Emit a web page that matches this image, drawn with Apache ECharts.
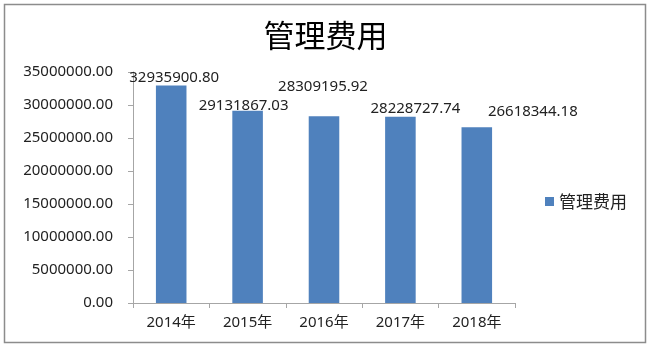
<!DOCTYPE html>
<html><head><meta charset="utf-8">
<script src="https://cdn.jsdelivr.net/npm/echarts@6/dist/echarts.min.js"></script>
<style>html,body{margin:0;padding:0;background:#fff}#c{width:651px;height:349px}</style>
</head><body><div id="c"></div>
<script>
const categories = ['2014年','2015年','2016年','2017年','2018年'];
const values = [32935900.80, 29131867.03, 28309195.92, 28228727.74, 26618344.18];
const seriesName = '管理费用';
const titleText = '管理费用';

// manual label nudges (style only)
const labelNudges = [[3,0],[-4,3],[-1,-21],[15,0],[56,-8]];

const font = '"Noto Sans", "Noto Sans CJK SC", sans-serif';
const chart = echarts.init(document.getElementById('c'));
chart.setOption({
  animation: false,
  title: { text: titleText, left: 'center', top: 15,
    textStyle: { fontSize: 31, fontWeight: 'normal', color: '#000', fontFamily: '"Noto Sans CJK SC", sans-serif' } },
  legend: { data: [seriesName], left: 540, top: 188, itemWidth: 9, itemHeight: 9, itemGap: 4,
    icon: 'rect', textStyle: { fontSize: 17, color: '#222', fontFamily: '"Noto Sans CJK SC", sans-serif' } },
  grid: { left: 133, right: 136, top: 72, bottom: 46 },
  xAxis: { type: 'category', data: categories,
    axisLine: { lineStyle: { color: '#a6a6a6' } },
    axisTick: { show: true, length: 5, lineStyle: { color: '#a6a6a6' } },
    axisLabel: { fontSize: 15, color: '#222', margin: 12, fontFamily: font } },
  yAxis: { type: 'value', min: 0, max: 35000000, interval: 5000000,
    axisLine: { show: true, lineStyle: { color: '#a6a6a6' } },
    axisTick: { show: true, length: 5, lineStyle: { color: '#a6a6a6' } },
    splitLine: { show: false },
    axisLabel: { fontSize: 15, color: '#222', margin: 20, fontFamily: font,
      formatter: v => v.toFixed(2) } },
  series: [{ name: seriesName, type: 'bar', barWidth: '40%',
    itemStyle: { color: '#4F81BD' },
    data: values.map((v, i) => ({ value: v, label: { offset: labelNudges[i] } })),
    label: { show: true, position: 'top', distance: 0, lineHeight: 16,
      fontSize: 15, color: '#222', fontFamily: font, formatter: p => p.value.toFixed(2) } }],
  graphic: [{ type: 'rect', shape: { x: 4.5, y: 4.5, width: 641, height: 338 },
    style: { fill: 'none', stroke: '#8c8c8c', lineWidth: 1.5 }, silent: true }]
});
</script></body></html>
